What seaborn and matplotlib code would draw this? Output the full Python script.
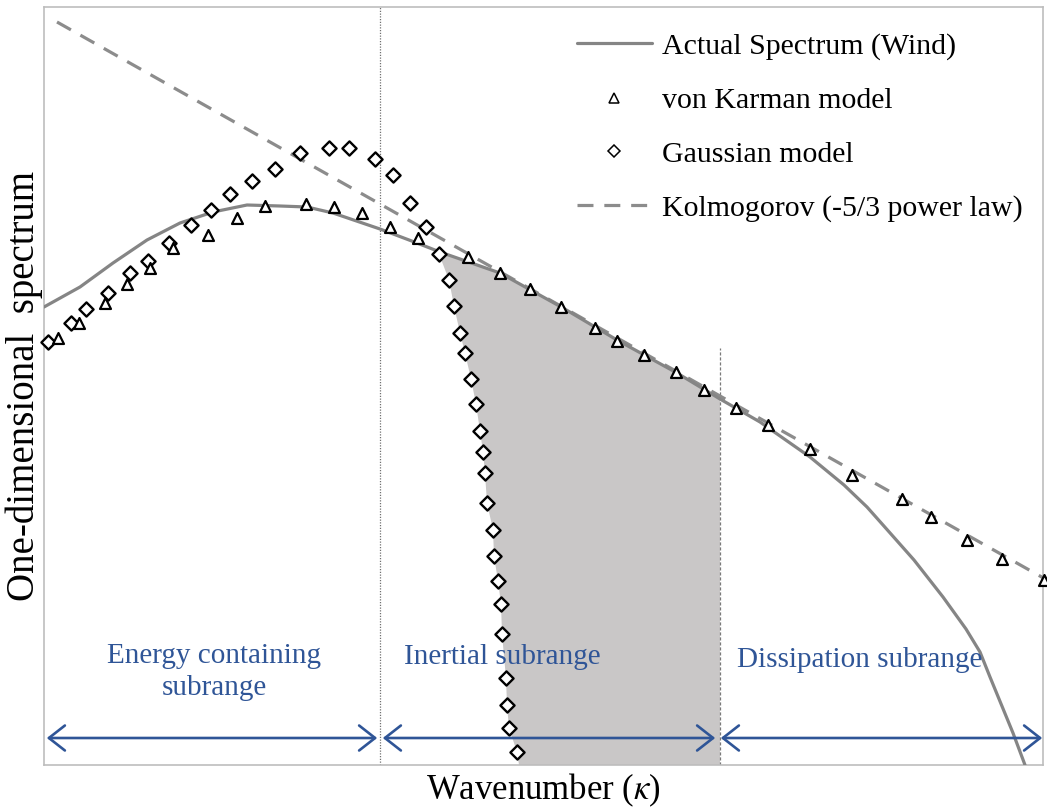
import numpy as np
import matplotlib
matplotlib.use("Agg")
import matplotlib.pyplot as plt
from matplotlib.lines import Line2D
from matplotlib.patches import FancyArrowPatch, Polygon
import seaborn as sns

# ---- data (arbitrary spectral units, linear display) ----
spec_k = [0.0, 3.6, 6.9, 10.3, 13.6, 16.9, 20.3, 23.6, 26.3, 28.9, 33.6, 37.3, 39.6,
          45.6, 51.9, 57.3, 63.3, 67.6, 71.6, 76.6, 80.0, 82.3, 83.9, 87.0, 89.9,
          92.2, 93.6, 94.6, 96.9, 98.1]
spec_e = [45.8, 47.8, 50.2, 52.5, 54.2, 55.3, 56.0, 55.9, 55.8, 55.2, 53.6, 52.2, 51.3,
          49.2, 45.7, 42.5, 39.2, 36.6, 34.3, 30.8, 28.0, 25.8, 24.0, 20.5, 16.8,
          13.6, 11.3, 8.8, 3.2, 0.0]

karman_k = [1.4, 3.5, 6.1, 8.3, 10.6, 12.9, 16.4, 19.3, 22.1, 26.2, 29.0, 31.8, 34.6,
            37.4, 42.4, 45.6, 48.6, 51.7, 55.1, 57.3, 60.0, 63.2, 66.0, 69.2, 72.4,
            76.6, 80.8, 85.8, 88.7, 92.3, 95.8, 100.0]
karman_e = [42.7, 44.2, 46.2, 48.1, 49.7, 51.7, 53.0, 54.7, 55.9, 56.1, 55.8, 55.2, 53.8,
            52.7, 50.8, 49.2, 47.6, 45.8, 43.7, 42.4, 41.0, 39.3, 37.5, 35.7, 34.0,
            31.6, 29.0, 26.6, 24.8, 22.5, 20.6, 18.5]

gauss_k = [0.4, 2.7, 4.2, 6.4, 8.6, 10.4, 12.5, 14.7, 16.7, 18.6, 20.8, 23.1, 25.6,
           28.5, 30.5, 33.1, 34.9, 36.6, 38.2, 39.5, 40.5, 41.0, 41.6, 42.1, 42.7,
           43.2, 43.6, 43.9, 44.1, 44.3, 44.9, 45.0, 45.4, 45.7, 45.8, 46.2, 46.3,
           46.5, 47.3]
gauss_e = [42.3, 44.2, 45.6, 47.2, 49.2, 50.4, 52.2, 54.0, 55.5, 57.1, 58.4, 59.6, 61.2,
           61.7, 61.7, 60.6, 59.0, 56.2, 53.8, 51.1, 48.5, 45.9, 43.2, 41.2, 38.6,
           36.1, 33.4, 31.3, 29.2, 26.2, 23.5, 20.9, 18.4, 16.1, 13.1, 8.7, 6.0,
           3.7, 1.3]

kolmo_k = [1.3, 33.6, 67.6, 100.3]
kolmo_e = [74.3, 56.1, 36.9, 18.5]

# subrange boundaries and labels
bounds = [0.0, 33.6, 67.4, 100.1]
inertial_end_top = 41.7
region_labels = ["Energy containing\nsubrange", "Inertial subrange", "Dissipation subrange"]
region_pos = [(17.0, 9.3), (45.8, 10.8), (81.6, 10.5)]
legend_labels = ["Actual Spectrum (Wind)", "von Karman model", "Gaussian model",
                 "Kolmogorov (-5/3 power law)"]

# ---- styling ----
sns.set_theme(style="white")
plt.rcParams["font.family"] = ["Liberation Serif", "DejaVu Serif"]
plt.rcParams["mathtext.fontset"] = "stix"
plt.rcParams["text.color"] = "black"

W, H = 1047, 808
fig = plt.figure(figsize=(W / 100, H / 100), dpi=100)
ax = fig.add_axes([44 / W, (H - 765) / H, (1043 - 44) / W, (765 - 7) / H])
ax.set_xlim(0, 99.9)
ax.set_ylim(0, 75.8)

line_gray = "#858585"
dash_gray = "#8c8c8c"
blue = "#2f5597"

# shaded inertial region: bounded by Gaussian points on the left, the measured
# spectrum on top and the dissipation boundary on the right
gk = np.array(gauss_k)
ge = np.array(gauss_e)
sk = np.array(spec_k)
se = np.array(spec_e)
start = int(np.argmin(np.abs(gk - 39.5)))
left_edge = list(zip(gk[start:], ge[start:])) + [(gk[-1] + 0.2, 0.0)]
x_right = bounds[2] + 0.2
top_mask = (sk > gk[start]) & (sk < x_right)
top_edge = [(x_right, float(np.interp(x_right, sk, se)))] + \
    list(zip(sk[top_mask][::-1], se[top_mask][::-1]))
poly = left_edge + [(x_right, 0.0)] + top_edge
ax.add_patch(Polygon(poly, closed=True, facecolor="#c9c7c7", edgecolor="none", zorder=1))

# subrange boundary lines
ax.axvline(bounds[1], color="#707070", lw=0.9, ls=(0, (1, 1.2)), zorder=2)
ax.plot([x_right, x_right], [0, inertial_end_top], color="#7a7a7a", lw=0.9,
        ls=(0, (2.5, 1.5)), zorder=2)

# curves
sns.lineplot(x=kolmo_k, y=kolmo_e, ax=ax, color=dash_gray, lw=2.3,
             linestyle=(0, (5.0, 3.4)), zorder=3, clip_on=False)
sns.lineplot(x=spec_k, y=spec_e, ax=ax, color=line_gray, lw=2.3, zorder=4, sort=False)

# model points
sns.scatterplot(x=karman_k, y=karman_e, ax=ax, marker="^", s=62, color="white",
                edgecolor="black", linewidth=1.6, zorder=6, clip_on=False)
sns.scatterplot(x=gauss_k, y=gauss_e, ax=ax, marker="D", s=52, color="white",
                edgecolor="black", linewidth=1.7, zorder=5, clip_on=False)

# subrange arrows
for a, b in zip(bounds[:-1], bounds[1:]):
    arr = FancyArrowPatch((a, 2.7), (b, 2.7),
                          arrowstyle="<->,head_length=1.15,head_width=0.9",
                          mutation_scale=10, color=blue, lw=1.9, zorder=7,
                          clip_on=False)
    ax.add_patch(arr)

for txt, (x, y) in zip(region_labels, region_pos):
    ax.text(x, y, txt, color=blue, fontsize=21, ha="center", va="center",
            linespacing=1.3, zorder=8)

# axes cosmetics
ax.set_xticks([])
ax.set_yticks([])
for sp in ax.spines.values():
    sp.set_color("#bdbdbd")
    sp.set_linewidth(1.2)
ax.set_xlabel(r"Wavenumber ($\kappa$)", fontsize=25, color="black", labelpad=5)
ax.set_ylabel("One-dimensional  spectrum", fontsize=28, color="black", labelpad=1)

# legend
handles = [
    Line2D([], [], color=line_gray, lw=2.3),
    Line2D([], [], ls="", marker="^", ms=6.5, mfc="white", mec="black", mew=1.1),
    Line2D([], [], ls="", marker="D", ms=6, mfc="white", mec="black", mew=1.1),
    Line2D([], [], color=dash_gray, lw=2.3, ls=(0, (5.0, 3.4))),
]
ax.legend(handles, legend_labels, loc="upper left",
          bbox_to_anchor=((577 - 44) / 999, (765 - 33) / 758),
          frameon=False, fontsize=21.5, handlelength=2.5, handletextpad=0.33,
          labelspacing=0.9, borderpad=0, borderaxespad=0, labelcolor="black")

fig.savefig("out.png", dpi=100)
